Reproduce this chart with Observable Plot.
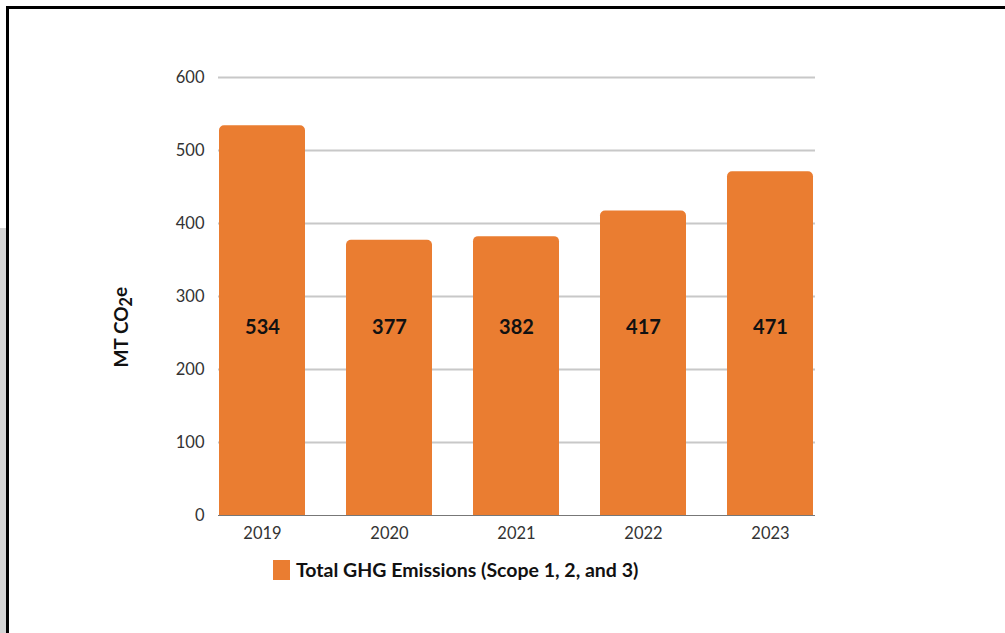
<!DOCTYPE html>
<html><head><meta charset="utf-8">
<script src="https://cdn.jsdelivr.net/npm/d3@7"></script>
<script src="https://cdn.jsdelivr.net/npm/@observablehq/plot@0.6"></script>
<style>
body{margin:0;background:#fff;width:1005px;height:633px;overflow:hidden;position:relative;font-family:Lato,sans-serif}
#frame{position:absolute;left:6px;top:6px;right:-10px;bottom:-10px;border-top:3px solid #000;border-left:3px solid #000}
#strip{position:absolute;left:0;top:228px;width:6px;bottom:0;background:#d4d4d4}
#chart{position:absolute;left:0;top:0}
#legend{position:absolute;left:273px;top:558px;display:flex;align-items:center;font:bold 19.5px Lato,sans-serif;color:#111}
.sw{width:17px;height:20px;margin-right:6px}
</style></head><body>
<div id="strip"></div><div id="frame"></div><div id="chart"></div><div id="legend"></div>
<script>
const years = ["2019","2020","2021","2022","2023"];
const emissions = [534,377,382,417,471];
const yTicks = [0,100,200,300,400,500,600];
const seriesName = "Total GHG Emissions (Scope 1, 2, and 3)";
const yLabel = "MT CO₂e";
const barColor = "#EA7D31";
const labelLevel = 258;
const data = years.map((y,i)=>({year:y, value:emissions[i]}));
const chart = Plot.plot({
  width:1005, height:560,
  marginLeft:218, marginRight:190, marginTop:77, marginBottom:45,
  style:{fontFamily:"Lato, sans-serif", fontSize:"16.5px", color:"#333", background:"transparent"},
  x:{domain:years, paddingInner:0.32, paddingOuter:0, label:null},
  y:{domain:[0,600], ticks:yTicks, label:null},
  marks:[
    Plot.gridY(yTicks.filter(d=>d>0), {stroke:"#c8c8c8", strokeOpacity:1, strokeWidth:2}),
    Plot.axisY({ticks:yTicks, tickSize:0, tickPadding:14, label:null}),
    Plot.axisX({tickSize:0, tickPadding:12, label:null}),
    Plot.ruleY([0],{stroke:"#777", strokeWidth:1}),
    Plot.barY(data,{x:"year", y:"value", fill:barColor, ry1:5}),
    Plot.text(data,{x:"year", y:()=>labelLevel, text:d=>String(d.value), fontWeight:"bold", fontSize:20, fill:"#111"}),
    Plot.text([yLabel],{x:()=>years[0], y:()=>labelLevel, text:d=>d, rotate:-90, dx:-141, fontWeight:"bold", fontSize:19, fill:"#111", className:"ylab"})
  ]
});
document.getElementById("chart").append(chart);
// render the subscript of CO2 as a real subscript
d3.select(chart).selectAll("text").filter(function(){return this.textContent===yLabel;}).each(function(){
  const t = d3.select(this);
  const parts = yLabel.split("₂");
  t.text(null);
  t.append("tspan").text(parts[0]);
  t.append("tspan").attr("dy","0.3em").attr("font-size","0.85em").text("2");
  t.append("tspan").attr("dy","-0.3em").text(parts[1]);
});
const lg = document.getElementById("legend");
const sw = document.createElement("div"); sw.className="sw"; sw.style.background=barColor;
const tx = document.createElement("span"); tx.textContent=seriesName;
lg.append(sw, tx);
</script>
</body></html>
